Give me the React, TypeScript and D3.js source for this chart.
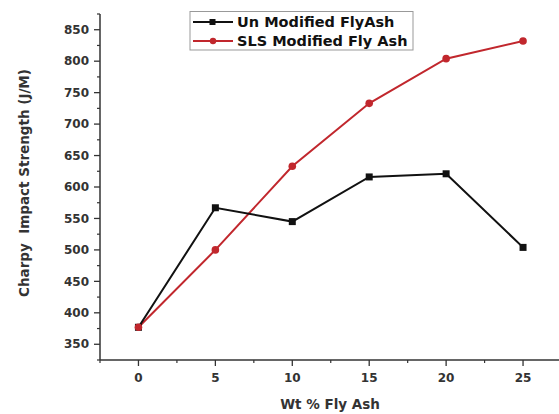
import React from "react";
import * as d3 from "d3";

const xValues = [0, 5, 10, 15, 20, 25];
const unmodified = [377, 567, 545, 616, 621, 504];
const slsModified = [377, 500, 633, 733, 804, 832];
const xTicks = [0, 5, 10, 15, 20, 25];
const yTicks = [350, 400, 450, 500, 550, 600, 650, 700, 750, 800, 850];
const seriesNames = ["Un Modified FlyAsh", "SLS Modified Fly Ash"];

const W = 559;
const H = 414;
const FONT = "'DejaVu Sans', Arial, sans-serif";

export default function App() {
  const x = d3.scaleLinear().domain([-2.5, 27.5]).range([100, 561.5]);
  const y = d3.scaleLinear().domain([325, 875]).range([360, 14]);
  const line = d3
    .line<number>()
    .x((_, i) => x(xValues[i]))
    .y((d) => y(d));
  const minorY = d3.range(325, 876, 25).filter((v) => v % 50 !== 0);
  const minorX = d3.range(-2.5, 27.6, 5);
  const axisColor = "#333";
  const red = "#c1272d";
  const black = "#111";

  return (
    <svg
      width={W}
      height={H}
      style={{ position: "absolute", left: 0, top: 0, background: "#fff" }}
      fontFamily={FONT}
    >
      <rect width={W} height={H} fill="#fff" />
      {/* axes */}
      <line x1={x(-2.5)} x2={x(-2.5)} y1={y(875)} y2={y(325)} stroke={axisColor} strokeWidth={1.5} />
      <line x1={x(-2.5)} x2={x(27.5)} y1={y(325)} y2={y(325)} stroke={axisColor} strokeWidth={1.5} />
      {yTicks.map((t) => (
        <g key={"y" + t}>
          <line x1={x(-2.5) - 6} x2={x(-2.5)} y1={y(t)} y2={y(t)} stroke={axisColor} strokeWidth={1.3} />
          <text x={x(-2.5) - 11} y={y(t)} dy="0.35em" textAnchor="end" fontSize={12} fontWeight="bold" fill="#333">
            {t}
          </text>
        </g>
      ))}
      {minorY.map((t) => (
        <line key={"my" + t} x1={x(-2.5) - 3} x2={x(-2.5)} y1={y(t)} y2={y(t)} stroke={axisColor} strokeWidth={1.2} />
      ))}
      {xTicks.map((t) => (
        <g key={"x" + t}>
          <line x1={x(t)} x2={x(t)} y1={y(325)} y2={y(325) + 6} stroke={axisColor} strokeWidth={1.3} />
          <text x={x(t)} y={y(325) + 18} dy="0.35em" textAnchor="middle" fontSize={12} fontWeight="bold" fill="#333">
            {t}
          </text>
        </g>
      ))}
      {minorX.map((t) => (
        <line key={"mx" + t} x1={x(t)} x2={x(t)} y1={y(325)} y2={y(325) + 3} stroke={axisColor} strokeWidth={1.2} />
      ))}
      {/* axis labels */}
      <text x={330} y={404} dy="0.35em" textAnchor="middle" fontSize={13.5} fontWeight="bold" fill="#333">
        Wt % Fly Ash
      </text>
      <text
        transform={`translate(24,183) rotate(-90)`}
        dy="0.35em"
        textAnchor="middle"
        fontSize={13.5}
        fontWeight="bold"
        fill="#333"
        style={{ whiteSpace: "pre" }}
      >
        {"Charpy  Impact Strength (J/M)"}
      </text>
      {/* series */}
      <path d={line(slsModified) || ""} fill="none" stroke={red} strokeWidth={2} />
      <path d={line(unmodified) || ""} fill="none" stroke={black} strokeWidth={2} />
      {unmodified.map((v, i) => (
        <rect key={"u" + i} x={x(xValues[i]) - 3.5} y={y(v) - 3.5} width={7} height={7} fill={black} />
      ))}
      {slsModified.map((v, i) => (
        <circle key={"s" + i} cx={x(xValues[i])} cy={y(v)} r={3.8} fill={red} />
      ))}
      {/* legend */}
      <rect x={190} y={11.5} width={223} height={38.5} fill="#fff" stroke="#999" strokeWidth={1} />
      <line x1={193} x2={233} y1={22} y2={22} stroke={black} strokeWidth={2} />
      <rect x={209.5} y={19} width={6} height={6} fill={black} />
      <text x={237} y={22} dy="0.35em" fontSize={14.5} fontWeight="bold" fill="#111">
        {seriesNames[0]}
      </text>
      <line x1={193} x2={233} y1={41} y2={41} stroke={red} strokeWidth={2} />
      <circle cx={213} cy={41} r={3.2} fill={red} />
      <text x={237} y={41} dy="0.35em" fontSize={14.5} fontWeight="bold" fill="#111">
        {seriesNames[1]}
      </text>
    </svg>
  );
}
